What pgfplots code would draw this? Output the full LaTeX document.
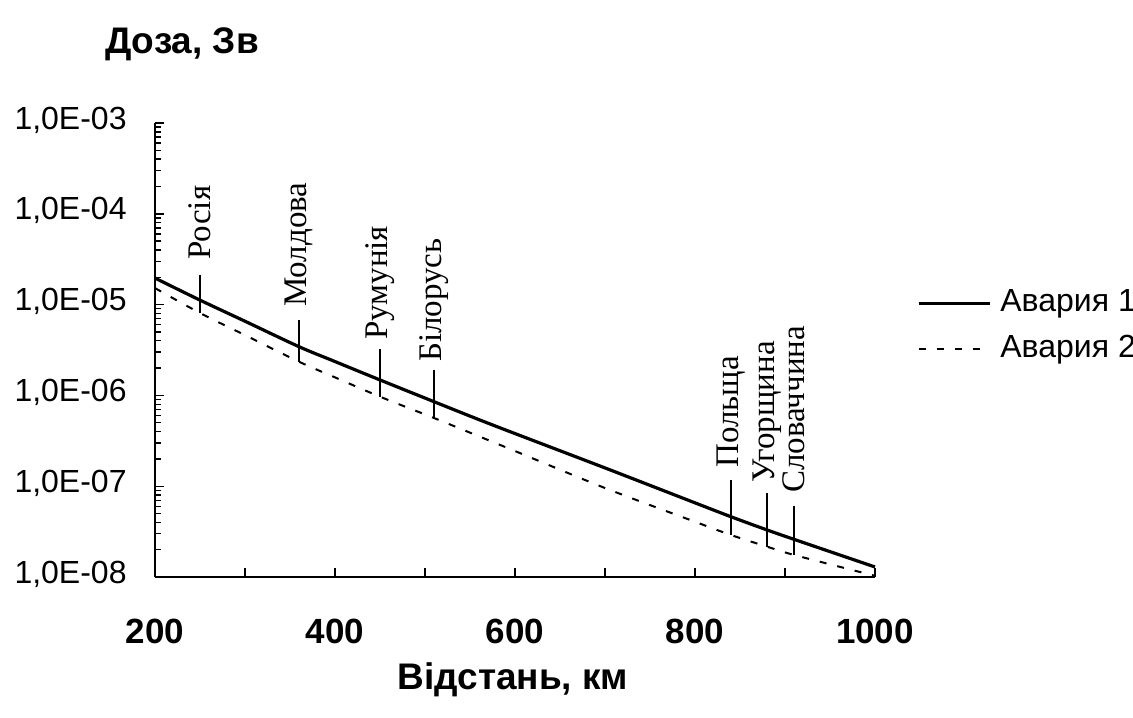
\documentclass[border=0pt]{standalone}
\usepackage{fontspec}
\setmainfont{Liberation Sans}
\newfontfamily\tnr{Liberation Serif}
\usepackage{pgfplots}
\usepackage{pgfplotstable}
\pgfplotsset{compat=1.18}

\tikzset{
  country/.style={rotate=90, anchor=west, inner sep=0pt, font=\tnr\fontsize{16.5bp}{18bp}\selectfont},
  border/.style={black, line width=0.9bp},
}

% dose vs distance, accident 1
\pgfplotstableread{
x     y
200   1.96e-5
250   1.12e-5
300   6.56e-6
360   3.44e-6
400   2.36e-6
450   1.48e-6
510   8.53e-7
561   5.36e-7
600   3.80e-7
700   1.59e-7
800   6.56e-8
840   4.61e-8
880   3.30e-8
910   2.60e-8
1000  1.29e-8
}\avaria

% accident 2
\pgfplotstableread{
x     y
200   1.52e-5
250   8.08e-6
300   4.61e-6
360   2.35e-6
400   1.58e-6
450   9.68e-7
510   5.64e-7
561   3.51e-7
600   2.44e-7
700   9.55e-8
800   4.06e-8
840   2.90e-8
880   2.16e-8
910   1.75e-8
1000  1.03e-8
}\avariaII

\begin{document}
\begin{tikzpicture}
\path[use as bounding box] (-77.5bp,-70.5bp) rectangle (489bp,288.5bp);
\begin{axis}[
    at={(0,0)}, anchor=south west,
    scale only axis, width=360bp, height=227bp,
    xmin=200, xmax=1000,
    ymin=1e-8, ymax=1e-3,
    ymode=log,
    axis lines*=left,
    axis line style={line width=0.9bp},
    tick align=inside,
    tick style={black, line width=0.7bp},
    major tick length=4.5bp,
    minor tick length=3bp,
    clip=false,
    xtick={200,400,600,800,1000},
    extra x ticks={300,500,700,900},
    extra x tick labels={},
    ytick={1e-8,1e-7,1e-6,1e-5,1e-4,1e-3},
    yticklabels={{1,0E-08},{1,0E-07},{1,0E-06},{1,0E-05},{1,0E-04},{1,0E-03}},
    /pgf/number format/assume math mode=true,
    /pgf/number format/1000 sep={},
    xticklabel style={font=\bfseries\fontsize{17.5bp}{20bp}\selectfont, anchor=center, yshift=-27bp},
    yticklabel style={font=\fontsize{16bp}{18bp}\selectfont, anchor=east, inner sep=0pt, xshift=-14bp, yshift=1.5bp},
    title={Доза, Зв},
    title style={font=\bfseries\fontsize{18.5bp}{21bp}\selectfont, at={(axis description cs:0.0375,1.148)}, anchor=center},
    xlabel={Відстань, км},
    xlabel style={font=\bfseries\fontsize{18.5bp}{21bp}\selectfont, at={(axis description cs:0.497,-0.226)}, anchor=center},
    legend style={draw=none, fill=none, at={(axis description cs:1.058,0.639)}, anchor=north west,
      inner sep=0pt, row sep=7bp, font=\fontsize{16bp}{18bp}\selectfont,
      nodes={inner sep=0pt, text height=12bp, text depth=4bp}},
    legend cell align=left,
    legend image code/.code={\draw[#1] (0bp,0bp) -- (35.5bp,0bp);},
]
\addplot[black, line width=1.6bp, smooth] table[x=x, y=y] {\avaria};
\addlegendentry{\hspace{4.5bp}Авария 1}
\addplot[black, line width=1bp, dash pattern=on 3.5bp off 5.5bp, smooth] table[x=x, y=y] {\avariaII};
\addlegendentry{\hspace{4.5bp}Авария 2}

% country borders
\addplot[border, forget plot] coordinates {(250,2.12e-5) (250,8.08e-6)};
\node[country] at (axis cs:250,3.10e-5) {Росія};
\addplot[border, forget plot] coordinates {(360,6.77e-6) (360,2.33e-6)};
\node[country] at (axis cs:360,9.41e-6) {Молдова};
\addplot[border, forget plot] coordinates {(450,3.24e-6) (450,9.60e-7)};
\node[country] at (axis cs:450,4.07e-6) {Румунія};
\addplot[border, forget plot] coordinates {(510,1.90e-6) (510,5.64e-7)};
\node[country] at (axis cs:510,2.33e-6) {Білорусь};
\addplot[border, forget plot] coordinates {(840,1.17e-7) (840,2.90e-8)};
\node[country] at (axis cs:840,1.59e-7) {Польща};
\addplot[border, forget plot] coordinates {(880,8.41e-8) (880,2.14e-8)};
\node[country] at (axis cs:880,1.08e-7) {Угорщина};
\addplot[border, forget plot] coordinates {(910,6.05e-8) (910,1.75e-8)};
\node[country] at (axis cs:910,8.41e-8) {Словаччина};
\end{axis}
\end{tikzpicture}
\end{document}
